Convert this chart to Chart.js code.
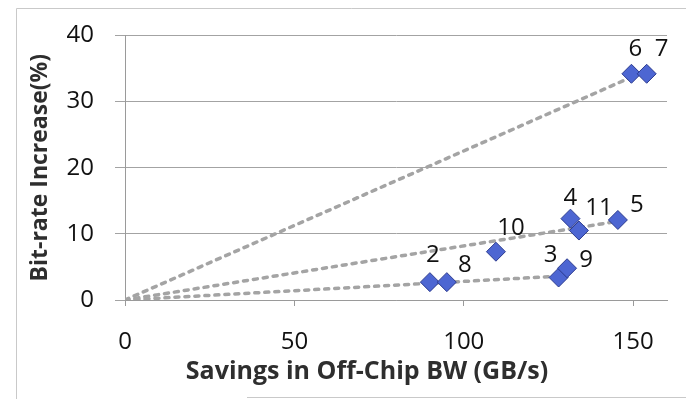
<!DOCTYPE html>
<html>
<head>
<meta charset="utf-8">
<script src="https://cdn.jsdelivr.net/npm/chart.js@4/dist/chart.umd.min.js"></script>
<style>
  body { margin: 0; background: #fff; }
  #wrap { position: relative; width: 686px; height: 399px; }
</style>
</head>
<body>
<div id="wrap"><canvas id="bwChart" width="686" height="399"></canvas></div>
<script>
// point numbers and their values
const pointIds = ["2", "8", "3", "9", "10", "4", "11", "5", "6", "7"];
const savingsGBs = [90, 95, 128, 130.5, 109.5, 131.5, 134, 145.5, 149.5, 154];
const bitrateIncrease = [2.7, 2.7, 3.4, 4.8, 7.3, 12.3, 10.5, 12.1, 34.2, 34.2];

// dashed trend lines, all start at the origin
const trendEndX = [128, 145.5, 154];
const trendEndY = [3.6, 11.9, 34.7];

const xTicks = [0, 50, 100, 150];
const yTicks = [0, 10, 20, 30, 40];

// label offsets in pixels (x, y) relative to each marker
const labelOffsets = [[3, -27], [18, -17], [-8, -22], [19, -8], [15, -24],
                      [0, -20], [20, -22], [19, -15], [4, -25], [15, -25]];

const FONT = "'Open Sans', 'DejaVu Sans', sans-serif";
const ctx = document.getElementById("bwChart");

var points = [];
for (let i = 0; i < pointIds.length; i++) {
    points.push({ x: savingsGBs[i], y: bitrateIncrease[i] });
}

var trendSets = [];
for (let i = 0; i < trendEndX.length; i++) {
    trendSets.push({
        data: [{ x: 0, y: 0 }, { x: trendEndX[i], y: trendEndY[i] }],
        showLine: true,
        borderColor: "#a4a4a4",
        borderWidth: 3.5,
        borderDash: [4, 6],
        borderCapStyle: "round",
        pointRadius: 0,
        order: 2
    });
}

const pointLabels = {
    id: "pointLabels",
    afterDatasetsDraw(chart) {
        const c = chart.ctx;
        const xs = chart.scales.x, ys = chart.scales.y;
        c.save();
        c.font = "24px " + FONT;
        c.fillStyle = "#111";
        c.textAlign = "center";
        c.textBaseline = "middle";
        for (let i = 0; i < pointIds.length; i++) {
            const px = xs.getPixelForValue(savingsGBs[i]) + labelOffsets[i][0];
            const py = ys.getPixelForValue(bitrateIncrease[i]) + labelOffsets[i][1];
            c.fillText(pointIds[i], px, py);
        }
        c.restore();
    }
};

const frameAndTitle = {
    id: "frameAndTitle",
    beforeDraw(chart) {
        const c = chart.ctx;
        c.save();
        c.strokeStyle = "#c9c9c9";
        c.lineWidth = 1;
        c.beginPath();
        c.moveTo(16.5, 399); c.lineTo(16.5, 8.5); c.lineTo(686, 8.5);
        c.moveTo(247, 397.5); c.lineTo(686, 397.5);
        c.stroke();
        c.restore();
    },
    afterDraw(chart) {
        const c = chart.ctx;
        c.save();
        c.font = "bold 25px " + FONT;
        c.fillStyle = "#2e2e2e";
        c.textAlign = "center";
        c.textBaseline = "alphabetic";
        c.fillText("Savings in Off-Chip BW (GB/s)", 367, 379);
        c.restore();
    }
};

new Chart(ctx, {
    type: "scatter",
    data: {
        datasets: [{
            data: points,
            pointStyle: "rectRot",
            pointRadius: 9.5,
            pointHoverRadius: 9.5,
            backgroundColor: "#4d66d2",
            borderColor: "#2b3a8e",
            borderWidth: 1,
            order: 1
        }].concat(trendSets)
    },
    options: {
        responsive: false,
        animation: false,
        devicePixelRatio: 1,
        layout: { padding: { top: 33, right: 19, left: 0, bottom: 0 } },
        plugins: { legend: { display: false }, tooltip: { enabled: false } },
        scales: {
            x: {
                type: "linear",
                min: 0,
                max: 160,
                afterBuildTicks(scale) {
                    scale.ticks = xTicks.map(v => ({ value: v }));
                },
                afterFit(scale) { scale.height = 99; },
                grid: { drawOnChartArea: false, tickLength: 6, color: "#9a9a9a" },
                border: { color: "#9a9a9a" },
                ticks: { font: { family: FONT, size: 24 }, color: "#111", padding: 22, maxRotation: 0 }
            },
            y: {
                min: 0,
                max: 40,
                afterBuildTicks(scale) {
                    scale.ticks = yTicks.map(v => ({ value: v }));
                },
                afterFit(scale) { scale.width = 125; },
                grid: { tickLength: 10, color: "#a3a3a3" },
                border: { color: "#9a9a9a" },
                ticks: { font: { family: FONT, size: 24 }, color: "#111", padding: 21 },
                title: {
                    display: true,
                    text: "Bit-rate Increase(%)",
                    font: { family: FONT, size: 23, weight: "bold" },
                    color: "#2e2e2e",
                    padding: { top: 27, bottom: 0 }
                }
            }
        }
    },
    plugins: [pointLabels, frameAndTitle]
});
</script>
</body>
</html>
